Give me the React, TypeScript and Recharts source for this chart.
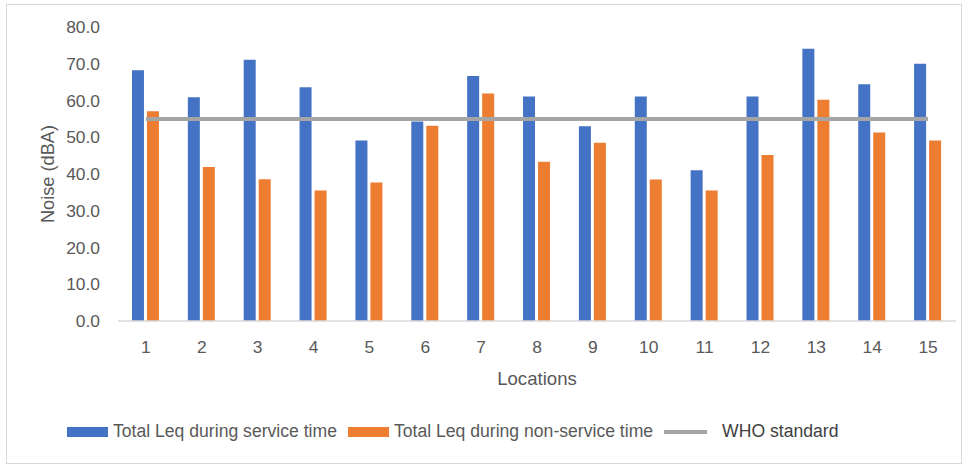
import React from 'react';
import { ComposedChart, Bar, Line, XAxis, YAxis, Legend, Label } from 'recharts';

const locations = ['1', '2', '3', '4', '5', '6', '7', '8', '9', '10', '11', '12', '13', '14', '15'];
const serviceTime = [68.2, 60.9, 71.1, 63.6, 49.1, 54.3, 66.7, 61.1, 53.0, 61.1, 41.0, 61.1, 74.1, 64.4, 70.0];
const nonServiceTime = [57.1, 41.9, 38.6, 35.5, 37.7, 53.1, 61.9, 43.3, 48.5, 38.5, 35.5, 45.2, 60.2, 51.3, 49.1];
const whoStandard = [55, 55, 55, 55, 55, 55, 55, 55, 55, 55, 55, 55, 55, 55, 55];
const yTicks = [0, 10, 20, 30, 40, 50, 60, 70, 80];

const seriesNames = {
  service: 'Total Leq during service time',
  nonService: 'Total Leq during non-service time',
  who: 'WHO standard',
};
const legendOrder = ['service', 'nonService', 'who'];

const data = locations.map((loc, i) => ({
  loc,
  service: serviceTime[i],
  nonService: nonServiceTime[i],
  who: whoStandard[i],
}));

const FONT = '"Liberation Sans", Arial, sans-serif';

const renderLegend = (props: any) => {
  const payload = [...(props.payload || [])].sort(
    (a: any, b: any) => legendOrder.indexOf(a.dataKey) - legendOrder.indexOf(b.dataKey)
  );
  return (
    <div style={{ display: 'flex', alignItems: 'center', fontFamily: FONT, fontSize: 17.6, whiteSpace: 'nowrap' }}>
      {payload.map((entry: any, idx: number) => {
        const isLine = entry.type === 'line';
        return (
          <div key={idx} style={{ display: 'flex', alignItems: 'center', marginRight: 11 }}>
            {isLine ? (
              <div style={{ width: 43, height: 4, background: entry.color, marginRight: 15 }} />
            ) : (
              <div style={{ width: 41, height: 10, background: entry.color, marginRight: 5 }} />
            )}
            <span style={{ color: isLine ? '#404040' : '#595959' }}>{entry.value}</span>
          </div>
        );
      })}
    </div>
  );
};

export default function App() {
  return (
    <div style={{ position: 'absolute', left: 0, top: 0, width: 966, height: 465, background: '#fff' }}>
      <div
        style={{
          position: 'absolute',
          left: 6,
          top: 4,
          width: 954,
          height: 458,
          border: '1px solid #D9D9D9',
        }}
      />
      <ComposedChart
        width={966}
        height={465}
        data={data}
        margin={{ top: 27, right: 10, left: 0, bottom: 84 }}
        barCategoryGap="25%"
        barGap={3}
        style={{ position: 'absolute', left: 0, top: 0 }}
      >
        <XAxis
          dataKey="loc"
          height={60}
          axisLine={{ stroke: '#D9D9D9', strokeWidth: 1.5 }}
          tickLine={false}
          tickSize={0}
          tickMargin={20}
          tick={{ fill: '#595959', fontSize: 17.4, fontFamily: FONT }}
          interval={0}
        >
          <Label
            value="Locations"
            position="center"
            dy={27}
            style={{ fill: '#595959', fontSize: 18.6, fontFamily: FONT }}
          />
        </XAxis>
        <YAxis
          width={118}
          domain={[0, 80]}
          ticks={yTicks}
          tickFormatter={(v: number) => v.toFixed(1)}
          axisLine={false}
          tickLine={false}
          tickSize={0}
          tickMargin={18}
          tick={{ fill: '#595959', fontSize: 17.4, fontFamily: FONT }}
        >
          <Label
            value="Noise (dBA)"
            angle={-90}
            position="center"
            dx={-11}
            style={{ fill: '#595959', fontSize: 18.2, fontFamily: FONT, textAnchor: 'middle' }}
          />
        </YAxis>
        <Legend
          verticalAlign="middle"
          layout="horizontal"
          wrapperStyle={{ top: 421, left: 67, width: 'auto' }}
          content={renderLegend}
        />
        <Bar dataKey="service" name={seriesNames.service} fill="#4472C4" isAnimationActive={false} legendType="rect" />
        <Bar dataKey="nonService" name={seriesNames.nonService} fill="#ED7D31" isAnimationActive={false} legendType="rect" />
        <Line
          dataKey="who"
          name={seriesNames.who}
          stroke="#A5A5A5"
          strokeWidth={4}
          dot={false}
          activeDot={false}
          type="linear"
          isAnimationActive={false}
          legendType="line"
        />
      </ComposedChart>
    </div>
  );
}
